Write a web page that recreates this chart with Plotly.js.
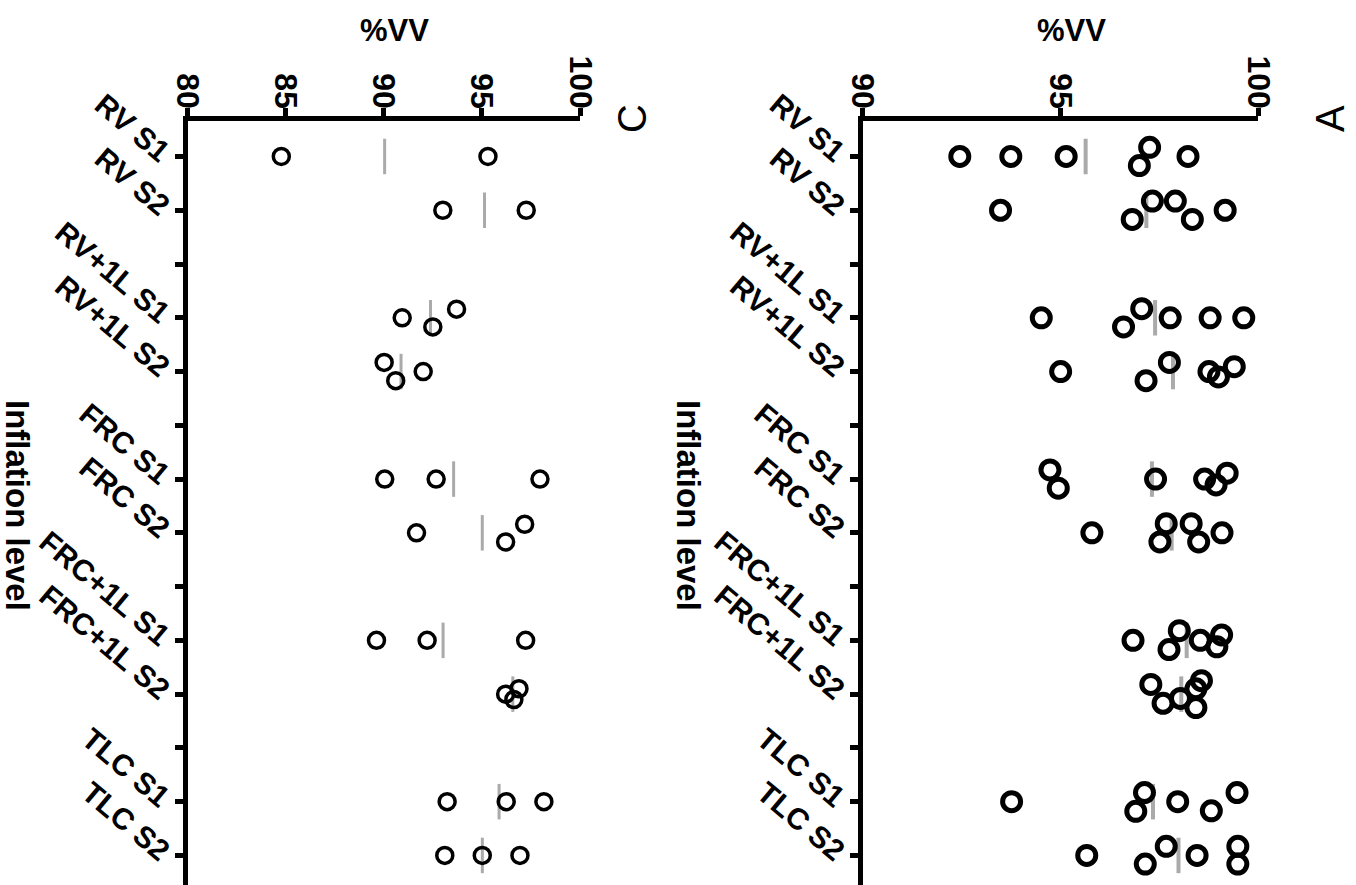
<!DOCTYPE html>
<html>
<head>
<meta charset="utf-8">
<script src="https://cdn.plot.ly/plotly-3.0.1.min.js"></script>
<style>
html,body{margin:0;padding:0;background:#fff;overflow:hidden;}
#chart{width:1356px;height:885px;}
</style>
</head>
<body>
<div id="chart"></div>
<script>
// Category axis (empty strings are spacer ticks between groups)
const categories = ['RV S1','RV S2','','RV+1L S1','RV+1L S2','','FRC S1','FRC S2','','FRC+1L S1','FRC+1L S2','','TLC S1','TLC S2'];
const groups = ['RV S1','RV S2','RV+1L S1','RV+1L S2','FRC S1','FRC S2','FRC+1L S1','FRC+1L S2','TLC S1','TLC S2'];

// Panel A: %VV per subject
const panelA = [
  [92.46, 93.75, 95.15, 97.26, 97.00, 98.23],
  [93.49, 96.82, 97.33, 97.91, 98.34, 99.17],
  [94.52, 96.60, 97.06, 97.78, 98.79, 99.64],
  [95.01, 97.17, 97.76, 98.76, 99.00, 99.40],
  [94.74, 94.95, 97.41, 98.65, 98.94, 99.22],
  [95.80, 97.52, 97.68, 98.31, 98.50, 99.09],
  [96.84, 97.75, 98.01, 98.54, 99.08, 98.96],
  [97.29, 97.60, 98.04, 98.57, 98.43, 98.43],
  [93.77, 97.13, 96.91, 97.97, 98.82, 99.47],
  [95.67, 97.15, 97.68, 98.46, 99.49, 99.49]
];
// Panel A: scatter (jitter) offsets within each category, in category units
const panelAJitter = [
  [0, 0, 0, -0.17, 0.17, 0],
  [0, 0.17, -0.17, -0.17, 0.17, 0],
  [0, 0.17, -0.17, 0, 0, 0],
  [0, 0.17, -0.17, 0, 0.1, -0.09],
  [-0.17, 0.17, 0, 0, 0.11, -0.11],
  [0, 0.17, -0.17, -0.17, 0.17, 0],
  [0, 0.17, -0.18, 0, -0.1, 0.12],
  [-0.18, 0.17, 0.08, -0.25, -0.1, 0.25],
  [0, -0.17, 0.18, 0, 0.17, -0.17],
  [0, 0.16, -0.17, 0, -0.17, 0.16]
];

// Panel C: %VV per subject
const panelC = [
  [84.78, 95.31],
  [93.01, 97.26],
  [90.94, 92.50, 93.71],
  [90.02, 90.61, 92.01],
  [90.05, 92.67, 97.96],
  [91.67, 96.21, 97.18],
  [89.63, 92.21, 97.23],
  [96.21, 96.89, 96.63],
  [93.23, 96.24, 98.16],
  [93.11, 95.02, 96.94]
];
const panelCJitter = [
  [0, 0],
  [0, 0],
  [0, 0.17, -0.16],
  [-0.17, 0.17, 0],
  [0, 0, 0],
  [0, 0.17, -0.16],
  [0, 0, 0],
  [0, -0.1, 0.1],
  [0, 0, 0],
  [0, 0, 0]
];

const tickValsA = [90, 95, 100];
const tickValsC = [80, 85, 90, 95, 100];

const W = 1356, H = 885;
const FONT = 'Liberation Sans, Arial, sans-serif';

function buildTraces(vals, jit, xa, ya, msize, mline, meanW) {
  const xs = [], ys = [], mx = [], my = [];
  groups.forEach((g, gi) => {
    const pos = categories.indexOf(g);
    vals[gi].forEach((v, k) => { xs.push(v); ys.push(pos + jit[gi][k]); });
    const m = vals[gi].reduce((a, b) => a + b, 0) / vals[gi].length;
    mx.push(m, m, null); my.push(pos - 0.33, pos + 0.33, null);
  });
  return [
    {type:'scatter', mode:'lines', x:mx, y:my, xaxis:xa, yaxis:ya,
     line:{color:'#aaaaaa', width:meanW}, hoverinfo:'skip', showlegend:false},
    {type:'scatter', mode:'markers', x:xs, y:ys, xaxis:xa, yaxis:ya,
     marker:{symbol:'circle-open', size:msize, color:'#000', line:{color:'#000', width:mline}},
     showlegend:false}
  ];
}

const traces = [
  ...buildTraces(panelC, panelCJitter, 'x', 'y', 16, 3.5, 3),
  ...buildTraces(panelA, panelAJitter, 'x2', 'y2', 18, 5, 4)
];

const yTop = 121, yBot = 885;
const yDomain = [1 - yBot / H, 1 - yTop / H];
const catRange = [13.55, -0.66];

function valAxis(domainPx, range, ticks, anchor) {
  return {
    domain:[domainPx[0] / W, domainPx[1] / W], range:range, anchor:anchor, side:'top',
    tickvals:ticks, ticktext:ticks.map(String), tickangle:90, ticklabelstandoff:-12,
    showline:true, linecolor:'#000', linewidth:5, ticks:'outside', ticklen:8, tickwidth:5, tickcolor:'#000',
    showgrid:false, zeroline:false, fixedrange:true,
    tickfont:{family:FONT, size:32, color:'#000', weight:'bold'}
  };
}
function catAxis(anchor) {
  return {
    domain:yDomain, range:catRange, anchor:anchor,
    tickvals:categories.map((c, i) => i), ticktext:categories, tickangle:40,
    showline:true, linecolor:'#000', linewidth:5, ticks:'outside', ticklen:8, tickwidth:5, tickcolor:'#000',
    showgrid:false, zeroline:false, fixedrange:true,
    tickfont:{family:FONT, size:30, color:'#000', weight:'bold'}
  };
}

const layout = {
  width:W, height:H,
  margin:{l:0, r:0, t:0, b:0, pad:0},
  paper_bgcolor:'#fff', plot_bgcolor:'#fff',
  showlegend:false,
  xaxis: valAxis([187.5, 580], [80, 100], tickValsC, 'y'),
  yaxis: catAxis('x'),
  xaxis2: valAxis([862.5, 1258], [90, 100], tickValsA, 'y2'),
  yaxis2: catAxis('x2'),
  annotations:[
    {text:'<b>%VV</b>', xref:'paper', yref:'paper', x:394 / W, y:1 - 31 / H, xanchor:'center', yanchor:'middle',
     showarrow:false, font:{family:FONT, size:31, color:'#000'}},
    {text:'<b>%VV</b>', xref:'paper', yref:'paper', x:1071 / W, y:1 - 31 / H, xanchor:'center', yanchor:'middle',
     showarrow:false, font:{family:FONT, size:31, color:'#000'}},
    {text:'<b>Inflation level</b>', xref:'paper', yref:'paper', x:17 / W, y:1 - 505 / H, xanchor:'center', yanchor:'middle',
     textangle:90, showarrow:false, font:{family:FONT, size:33, color:'#000'}},
    {text:'<b>Inflation level</b>', xref:'paper', yref:'paper', x:688 / W, y:1 - 505 / H, xanchor:'center', yanchor:'middle',
     textangle:90, showarrow:false, font:{family:FONT, size:33, color:'#000'}},
    {text:'C', xref:'paper', yref:'paper', x:632 / W, y:1 - 119 / H, xanchor:'center', yanchor:'middle',
     textangle:-90, showarrow:false, font:{family:FONT, size:40, color:'#000'}},
    {text:'A', xref:'paper', yref:'paper', x:1330 / W, y:1 - 119 / H, xanchor:'center', yanchor:'middle',
     textangle:-90, showarrow:false, font:{family:FONT, size:40, color:'#000'}}
  ]
};

Plotly.newPlot('chart', traces, layout, {staticPlot:true, displayModeBar:false});
</script>
</body>
</html>
